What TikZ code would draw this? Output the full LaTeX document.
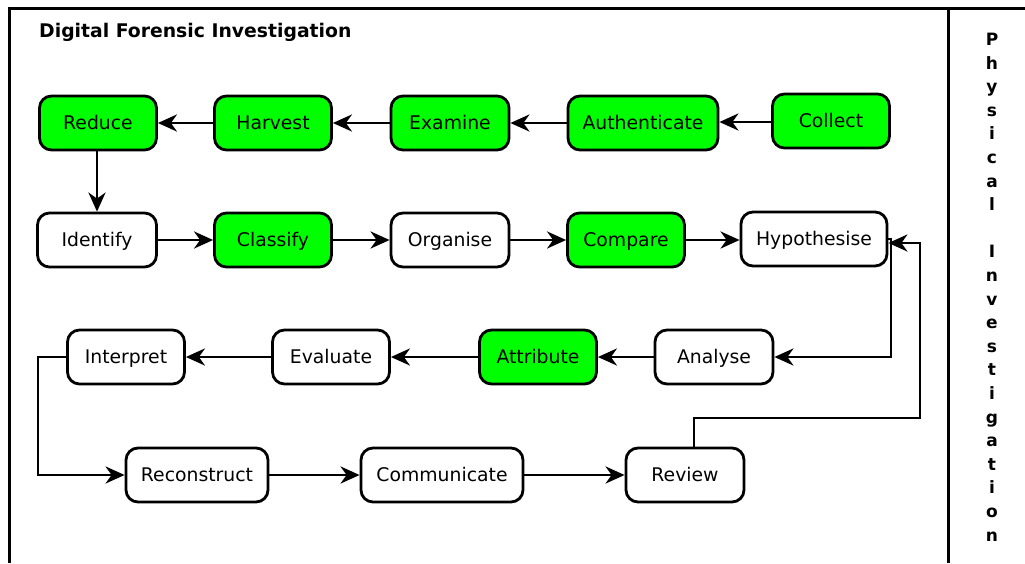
\documentclass[tikz,border=0pt]{standalone}
\usepackage{fontspec}
\setmainfont{DejaVu Sans}
\usetikzlibrary{arrows.meta}
\definecolor{procgreen}{HTML}{00FF00}
\begin{document}
\begin{tikzpicture}[x=1pt,y=-1pt,
  stagebox/.style={draw=black, line width=2.8pt, rounded corners=12pt,
    minimum height=54pt, inner sep=0pt, fill=white,
    text height=15.5pt, text depth=2.5pt,
    font=\fontsize{18.8}{22}\selectfont},
  greenbox/.style={stagebox, fill=procgreen},
  flow/.style={line width=2.8pt, -{Stealth[length=19pt,width=17pt,inset=6pt]}},
  frame/.style={line width=3pt}]
\useasboundingbox (0,0) rectangle (1025,563);

% outer frame and divider
\draw[frame] (9,563) -- (9,8) -- (1025,8);
\draw[frame] (948,8) -- (948,563);

% headings
\node[anchor=west, inner sep=0pt, font=\bfseries\fontsize{18.8}{22}\selectfont] (title) at (39,32) {Digital Forensic Investigation};
\node[align=center, inner sep=0pt, font=\bfseries\fontsize{17}{23.6}\selectfont] (phys) at (992,287)
  {P\\h\\y\\s\\i\\c\\a\\l\\~\\I\\n\\v\\e\\s\\t\\i\\g\\a\\t\\i\\o\\n};

% row 1
\node[greenbox, minimum width=117pt] (reduce) at (98,123) {Reduce};
\node[greenbox, minimum width=117pt] (harvest) at (273,123) {Harvest};
\node[greenbox, minimum width=118pt] (examine) at (450,123) {Examine};
\node[greenbox, minimum width=150pt] (auth) at (643,123) {Authenticate};
\node[greenbox, minimum width=117pt] (collect) at (831,121) {Collect};

% row 2
\node[stagebox, minimum width=119pt] (identify) at (97,240) {Identify};
\node[greenbox, minimum width=117pt] (classify) at (273,240) {Classify};
\node[stagebox, minimum width=118pt] (organise) at (450,240) {Organise};
\node[greenbox, minimum width=117pt] (compare) at (626,240) {Compare};
\node[stagebox, minimum width=146pt] (hypo) at (814,239) {Hypothesise};

% row 3
\node[stagebox, minimum width=117pt] (interpret) at (126,357) {Interpret};
\node[stagebox, minimum width=117pt] (evaluate) at (331,357) {Evaluate};
\node[greenbox, minimum width=117pt] (attribute) at (538,357) {Attribute};
\node[stagebox, minimum width=118pt] (analyse) at (714,357) {Analyse};

% row 4
\node[stagebox, minimum width=142pt] (reconstruct) at (197,475) {Reconstruct};
\node[stagebox, minimum width=162pt] (communicate) at (442,475) {Communicate};
\node[stagebox, minimum width=118pt] (review) at (685,475) {Review};

% routing points
\coordinate (hypout) at (891,239);
\coordinate (loopa) at (694,418);
\coordinate (loopb) at (920,418);
\coordinate (loopc) at (920,243);
\coordinate (intout) at (38,357);

% row 1 flow (right to left)
\draw[flow] (collect.west |- 0,122) -- (auth.east |- 0,122);
\draw[flow] (auth) -- (examine);
\draw[flow] (examine) -- (harvest);
\draw[flow] (harvest) -- (reduce);
\draw[flow] (reduce.south -| identify) -- (identify.north);

% row 2 flow
\draw[flow] (identify) -- (classify);
\draw[flow] (classify) -- (organise);
\draw[flow] (organise) -- (compare);
\draw[flow] (compare.east) -- (compare.east -| hypo.west);
\draw[flow] (hypo.east) -- (hypout) |- (analyse.east);

% row 3 flow
\draw[flow] (analyse) -- (attribute);
\draw[flow] (attribute) -- (evaluate);
\draw[flow] (evaluate) -- (interpret);
\draw[flow] (interpret.west) -- (intout) |- (reconstruct.west);

% row 4 flow
\draw[flow] (reconstruct) -- (communicate);
\draw[flow] (communicate) -- (review);
\draw[flow] (review.north -| loopa) -- (loopa) -- (loopb) -- (loopc) -- (hypo.east |- loopc);
\end{tikzpicture}
\end{document}
